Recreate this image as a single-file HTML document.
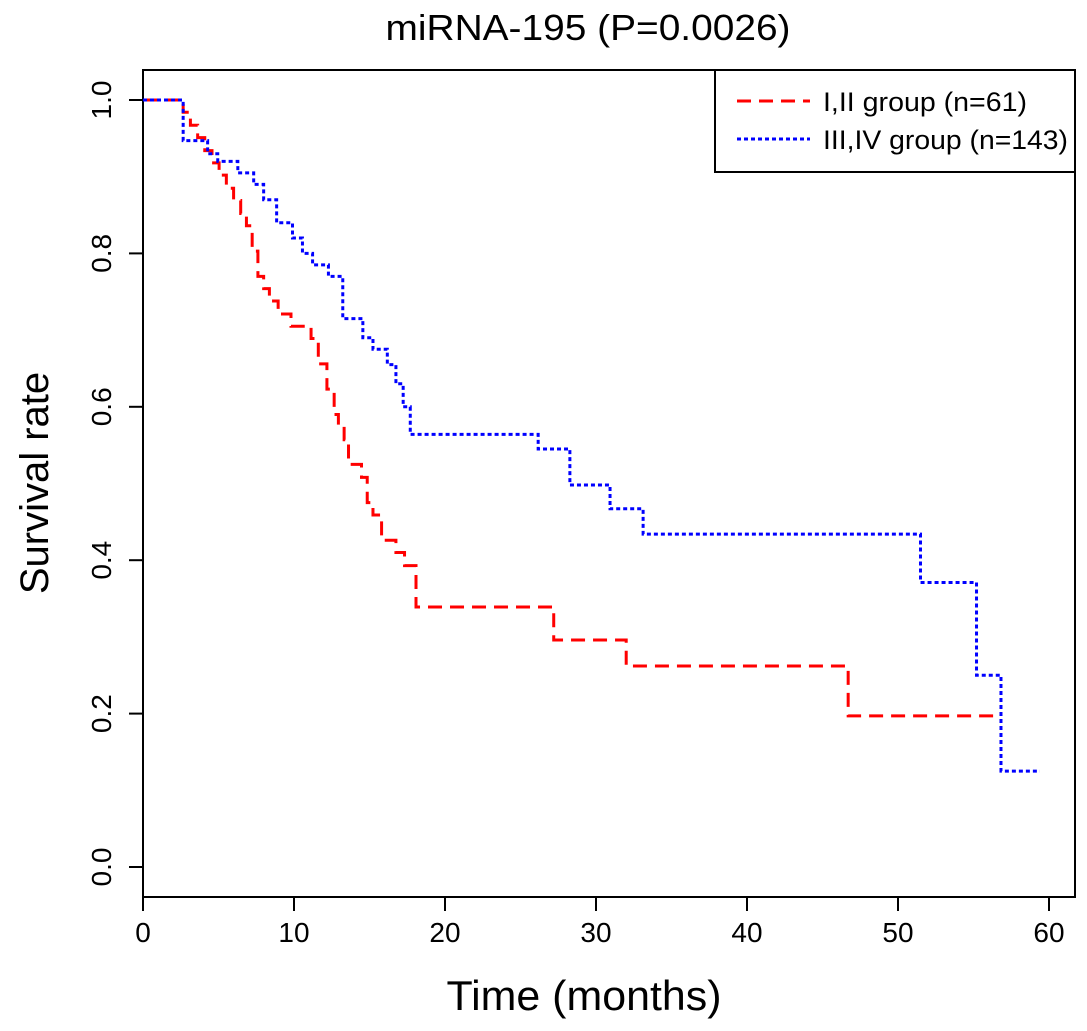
<!DOCTYPE html>
<html><head><meta charset="utf-8"><style>
html,body{margin:0;padding:0;background:#fff;}
svg{display:block;font-family:"Liberation Sans",Arial,sans-serif;}
</style></head><body>
<svg id="chart" width="1087" height="1031" viewBox="0 0 1087 1031">
<text x="588" y="40" font-size="36" text-anchor="middle" textLength="405" lengthAdjust="spacingAndGlyphs">miRNA-195 (P=0.0026)</text>
<rect x="143" y="70" width="932" height="827" fill="none" stroke="#000" stroke-width="2"/>
<g id="xaxis"></g>
<g id="yaxis"></g>
<text x="584" y="1010" font-size="42" text-anchor="middle" textLength="275" lengthAdjust="spacingAndGlyphs">Time (months)</text>
<text transform="translate(48,483) rotate(-90)" font-size="40" text-anchor="middle">Survival rate</text>
<g id="series"></g>
<g>
<rect x="715" y="70" width="360" height="102" fill="#fff" stroke="#000" stroke-width="2"/>
<line x1="737" y1="101" x2="810" y2="101" stroke="#f00" stroke-width="3" stroke-dasharray="14,8"/>
<text x="823" y="111" font-size="27" textLength="204" lengthAdjust="spacingAndGlyphs">I,II group (n=61)</text>
<line x1="737" y1="139" x2="810" y2="139" stroke="#00f" stroke-width="3" stroke-dasharray="4,3"/>
<text x="823" y="149" font-size="27" textLength="245" lengthAdjust="spacingAndGlyphs">III,IV group (n=143)</text>
</g>
</svg>
<script>
const xTicks=[0,10,20,30,40,50,60];
const yTicks=[0,0.2,0.4,0.6,0.8,1.0];
const yTickLabels=["0.0","0.2","0.4","0.6","0.8","1.0"];
const earlyTimes=[0,2.66,3.14,3.62,4.09,4.57,5.04,5.52,6.0,6.47,6.85,7.23,7.61,7.99,8.37,8.95,9.8,11.13,11.61,12.18,12.66,12.94,13.32,13.61,14.47,14.85,15.23,15.8,16.75,17.32,18.08,27.2,32.0,46.7];
const earlySurv=[1.0,0.984,0.967,0.951,0.934,0.918,0.902,0.885,0.869,0.852,0.836,0.803,0.770,0.754,0.738,0.721,0.705,0.689,0.656,0.623,0.590,0.574,0.557,0.525,0.508,0.475,0.459,0.426,0.41,0.393,0.339,0.296,0.262,0.197];
const earlyEnd=56.7;
const lateTimes=[0,2.66,4.28,4.95,6.28,7.33,7.99,8.85,9.9,10.56,11.23,12.28,13.23,14.56,15.23,16.18,16.75,17.23,17.7,26.17,28.27,30.93,33.12,51.49,55.2,56.82];
const lateSurv=[1.0,0.947,0.93,0.92,0.905,0.89,0.87,0.84,0.82,0.80,0.785,0.77,0.715,0.69,0.675,0.655,0.63,0.60,0.564,0.545,0.498,0.467,0.434,0.371,0.25,0.125];
const lateEnd=59.4;

const NS="http://www.w3.org/2000/svg";
const X=t=>143+t*15.1;
const Y=s=>867-s*767;
function mk(tag,attrs,parent){const e=document.createElementNS(NS,tag);for(const k in attrs)e.setAttribute(k,attrs[k]);parent.appendChild(e);return e;}
const xa=document.getElementById('xaxis');
mk('line',{x1:X(0),x2:X(60),y1:897,y2:897,stroke:'#000','stroke-width':2},xa);
xTicks.forEach(t=>{
 const l=mk('line',{x1:X(t),x2:X(t),y1:897,y2:911,stroke:'#000','stroke-width':2},xa);
 
 
 const tx=mk('text',{x:X(t),y:942,'font-size':28,'text-anchor':'middle'},xa);
 tx.textContent=t;
 
 
});
const ya=document.getElementById('yaxis');
mk('line',{x1:143,x2:143,y1:Y(0),y2:Y(1),stroke:'#000','stroke-width':2},ya);
yTicks.forEach((v,i)=>{
 const l=mk('line',{x1:129,x2:143,y1:Y(v),y2:Y(v),stroke:'#000','stroke-width':2},ya);
 
 
 const tx=mk('text',{transform:`translate(111,${Y(v)}) rotate(-90)`,'font-size':28,'text-anchor':'middle'},ya);
 tx.textContent=yTickLabels[i];
 
 
});
function stepPath(ts,ss,end){
 let d=`M${X(ts[0])},${Y(ss[0])}`;
 for(let i=1;i<ts.length;i++){d+=` H${X(ts[i])} V${Y(ss[i])}`;}
 d+=` H${X(end)}`;return d;
}
const g=document.getElementById('series');
const p1=mk('path',{d:stepPath(earlyTimes,earlySurv,earlyEnd),fill:'none',stroke:'#f00','stroke-width':3,'stroke-dasharray':'14,8'},g);


const p2=mk('path',{d:stepPath(lateTimes,lateSurv,lateEnd),fill:'none',stroke:'#00f','stroke-width':3,'stroke-dasharray':'4,3'},g);


</script>
</body></html>
